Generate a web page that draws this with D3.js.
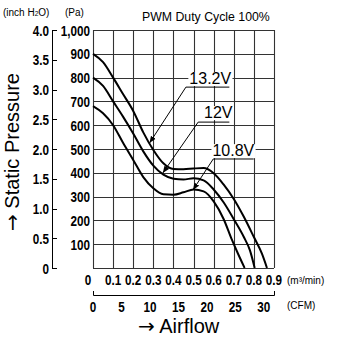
<!DOCTYPE html>
<html>
<head>
<meta charset="utf-8">
<script src="https://cdn.jsdelivr.net/npm/d3@7"></script>
<style>
  body { margin: 0; background: #fff; }
  svg { display: block; }
  .num { font-family: "Liberation Sans", Arial, sans-serif; font-weight: bold; font-size: 15px; fill: #000; }
  .small { font-family: "Liberation Sans", Arial, sans-serif; font-size: 10px; fill: #000; }
  .title { font-family: "Liberation Sans", Arial, sans-serif; font-size: 20px; fill: #000; }
</style>
</head>
<body>
<div id="chart"></div>
<script>
width = 337;
height = 337;

margin = { top: 30, right: 65, bottom: 69, left: 93 };

//////// Data ////////
// flow (m3/min) and static pressure (Pa)
const flow132 = [0, 0.05, 0.1, 0.15, 0.2, 0.25, 0.3, 0.35, 0.4, 0.45, 0.5, 0.55, 0.6, 0.65, 0.7, 0.75, 0.8, 0.84, 0.865];
const pa132   = [900, 865, 800, 730, 660, 570, 496, 440, 416, 415, 418, 420, 398, 350, 290, 215, 130, 60, 0];

const flow12 = [0, 0.05, 0.1, 0.15, 0.2, 0.25, 0.3, 0.35, 0.4, 0.45, 0.5, 0.55, 0.6, 0.65, 0.7, 0.75, 0.78, 0.804];
const pa12   = [800, 765, 700, 635, 565, 490, 430, 392, 375, 372, 377, 368, 330, 275, 205, 130, 75, 0];

const flow108 = [0, 0.05, 0.1, 0.15, 0.2, 0.25, 0.3, 0.35, 0.4, 0.45, 0.5, 0.55, 0.6, 0.65, 0.69, 0.72, 0.754];
const pa108   = [680, 650, 600, 525, 454, 382, 335, 310, 308, 318, 330, 322, 280, 205, 120, 62, 0];

const seriesNames = ["13.2V", "12V", "10.8V"];

// label placement (data units): text centre, underline ends, arrow tip
const labelX    = [0.583, 0.623, 0.698];
const labelPa   = [773, 630, 470];
const lineFrom  = [0.462, 0.523, 0.598];
const lineTo    = [0.678, 0.678, 0.799];
const linePa    = [760, 613, 458];
const tipFlow   = [0.281, 0.347, 0.497];
const tipPa     = [525, 399, 328];

const paTicks   = [100, 200, 300, 400, 500, 600, 700, 800, 900, 1000];
const inchTicks = [0, 0.5, 1.0, 1.5, 2.0, 2.5, 3.0, 3.5, 4.0];
const flowTicks = [0, 0.1, 0.2, 0.3, 0.4, 0.5, 0.6, 0.7, 0.8, 0.9];
const cfmTicks  = [0, 5, 10, 15, 20, 25, 30];

//////// Scales ////////
const xScale = d3.scaleLinear().domain([0, 0.9]).range([margin.left, width - margin.right + 2]);
const yScale = d3.scaleLinear().domain([0, 1000]).range([height - margin.bottom, margin.top]);
const inchScale = d3.scaleLinear().domain([0, 4]).range([height - margin.bottom, margin.top]);
const cfmScale = d3.scaleLinear().domain([0, 0.9 / 0.0283168]).range(xScale.range());

// condensed look for the numbers: squeeze text horizontally
const squeeze = 0.78;
function narrow(sel, fx, fy) {
    sel.attr('x', 0).attr('y', 0)
        .attr('transform', (d, i) => `translate(${fx(d, i)},${fy(d, i)}) scale(${squeeze},1)`);
}

const svg = d3.select('#chart')
    .append('svg')
    .attr('width', width)
    .attr('height', height);

svg.append('defs').append('marker')
    .attr('id', 'arrow')
    .attr('viewBox', '0 0 10 10')
    .attr('refX', 10)
    .attr('refY', 5)
    .attr('markerWidth', 7)
    .attr('markerHeight', 7)
    .attr('markerUnits', 'userSpaceOnUse')
    .attr('orient', 'auto')
    .append('path')
    .attr('d', 'M0,1 L10,5 L0,9 Z')
    .attr('fill', '#000');

//////// Grid ////////
const x0 = xScale(0), x1 = xScale(0.9), y0 = yScale(0), y1 = yScale(1000);

svg.append('g').selectAll('line')
    .data(flowTicks)
    .join('line')
    .attr('x1', d => Math.round(xScale(d)) + 0.5)
    .attr('x2', d => Math.round(xScale(d)) + 0.5)
    .attr('y1', y1).attr('y2', y0)
    .attr('stroke', '#333').attr('stroke-width', 1.1);

svg.append('g').selectAll('line')
    .data([0].concat(paTicks))
    .join('line')
    .attr('x1', x0).attr('x2', x1)
    .attr('y1', d => Math.round(yScale(d)) + 0.5)
    .attr('y2', d => Math.round(yScale(d)) + 0.5)
    .attr('stroke', '#333').attr('stroke-width', 1.1);

//////// Pa axis labels ////////
svg.append('g').selectAll('text')
    .data(paTicks)
    .join('text')
    .attr('class', 'num')
    .attr('text-anchor', 'end')
    .text(d => d3.format(',')(d))
    .call(narrow, () => x0 - 3, d => yScale(d) + 5.5);

//////// inch H2O axis ////////
const inchX = 52;
svg.append('line')
    .attr('x1', inchX + 0.5).attr('x2', inchX + 0.5)
    .attr('y1', inchScale(4)).attr('y2', inchScale(0))
    .attr('stroke', '#000').attr('stroke-width', 1);

svg.append('g').selectAll('line')
    .data(inchTicks)
    .join('line')
    .attr('x1', inchX).attr('x2', inchX + 5)
    .attr('y1', d => Math.round(inchScale(d)) + 0.5)
    .attr('y2', d => Math.round(inchScale(d)) + 0.5)
    .attr('stroke', '#000').attr('stroke-width', 1);

svg.append('g').selectAll('text')
    .data(inchTicks)
    .join('text')
    .attr('class', 'num')
    .attr('text-anchor', 'end')
    .text(d => d === 0 ? '0' : d3.format('.1f')(d))
    .call(narrow, () => inchX - 3, d => inchScale(d) + 5.5);

//////// flow axis (m3/min) ////////
svg.append('g').selectAll('text')
    .data(flowTicks)
    .join('text')
    .attr('class', 'num')
    .attr('text-anchor', 'middle')
    .text(d => d === 0 ? '0' : d3.format('.1f')(d))
    .call(narrow, d => xScale(d) - (d === 0 ? 5 : 0), () => y0 + 17);

svg.append('text')
    .attr('class', 'small')
    .attr('x', x1 + 13)
    .attr('y', y0 + 16)
    .text('(m³/min)');

//////// CFM axis ////////
const cfmY = y0 + 27;
svg.append('path')
    .attr('d', `M${x0 + 0.5},${cfmY - 4} V${cfmY + 0.5} H${x1 + 0.5} V${cfmY - 4}`)
    .attr('fill', 'none')
    .attr('stroke', '#000').attr('stroke-width', 1);

svg.append('g').selectAll('text')
    .data(cfmTicks)
    .join('text')
    .attr('class', 'num')
    .attr('text-anchor', 'middle')
    .text(d => d)
    .call(narrow, d => cfmScale(d), () => cfmY + 17);

svg.append('text')
    .attr('class', 'small')
    .attr('x', x1 + 13)
    .attr('y', cfmY + 14)
    .text('(CFM)');

//////// Axis titles ////////
const xTitle = svg.append('text')
    .attr('class', 'title')
    .attr('x', 138)
    .attr('y', 333);
xTitle.append('tspan').style('font-family', '"DejaVu Sans", sans-serif').text('→');
xTitle.append('tspan').text(' Airflow');

const yTitle = svg.append('text')
    .attr('class', 'title')
    .attr('transform', 'translate(19,231) rotate(-90)');
yTitle.append('tspan').style('font-family', '"DejaVu Sans", sans-serif').text('→');
yTitle.append('tspan').text(' Static Pressure');

const unitText = svg.append('text')
    .attr('class', 'small')
    .attr('x', 3)
    .attr('y', 16);
unitText.append('tspan').text('(inch H');
unitText.append('tspan').style('font-size', '6.5px').text('2');
unitText.append('tspan').text('O)');

svg.append('text')
    .attr('class', 'small')
    .attr('x', 65)
    .attr('y', 16)
    .text('(Pa)');

svg.append('text')
    .attr('x', 142)
    .attr('y', 21)
    .style('font-family', '"Liberation Sans", Arial, sans-serif')
    .style('font-size', '12.3px')
    .text('PWM Duty Cycle 100%');

//////// Curves ////////
const allSeries = [
    d3.zip(flow132, pa132),
    d3.zip(flow12, pa12),
    d3.zip(flow108, pa108)
];

const line = d3.line()
    .x(d => xScale(d[0]))
    .y(d => yScale(d[1]))
    .curve(d3.curveMonotoneX);

svg.append('g').selectAll('path')
    .data(allSeries)
    .join('path')
    .attr('d', line)
    .attr('fill', 'none')
    .attr('stroke', '#000')
    .attr('stroke-width', 2);

//////// Labels ////////
seriesNames.forEach((name, i) => {
    const g = svg.append('g');
    const t = g.append('text')
        .attr('x', xScale(labelX[i]))
        .attr('y', yScale(labelPa[i]))
        .attr('text-anchor', 'middle')
        .style('font-family', '"Liberation Sans", Arial, sans-serif')
        .style('font-size', '16px')
        .text(name);
    const bb = t.node().getBBox();
    g.insert('rect', 'text')
        .attr('x', bb.x - 1).attr('y', bb.y + 2)
        .attr('width', bb.width + 2).attr('height', bb.height - 3)
        .attr('fill', '#fff');
    g.append('line')
        .attr('x1', xScale(lineFrom[i])).attr('x2', xScale(lineTo[i]))
        .attr('y1', yScale(linePa[i])).attr('y2', yScale(linePa[i]))
        .attr('stroke', '#000').attr('stroke-width', 1);
    g.append('line')
        .attr('x1', xScale(lineFrom[i])).attr('y1', yScale(linePa[i]))
        .attr('x2', xScale(tipFlow[i])).attr('y2', yScale(tipPa[i]))
        .attr('stroke', '#000').attr('stroke-width', 1)
        .attr('marker-end', 'url(#arrow)');
});
</script>
</body>
</html>
